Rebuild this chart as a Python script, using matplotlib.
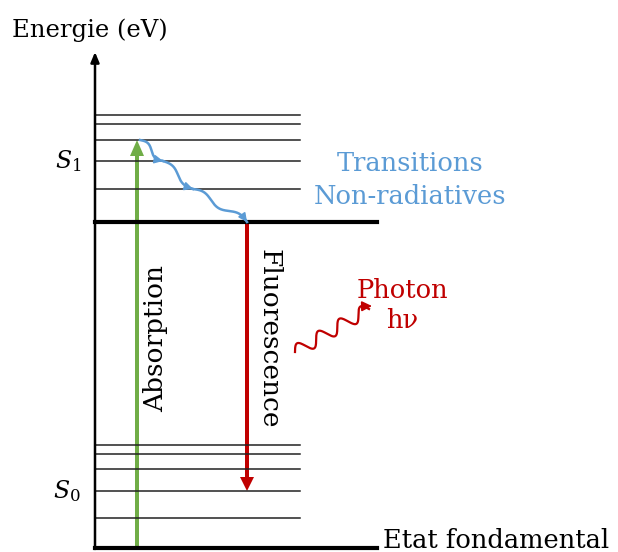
import numpy as np
import matplotlib.pyplot as plt

plt.rcParams['font.family'] = ['DejaVu Serif']
plt.rcParams['mathtext.fontset'] = 'dejavuserif'

# energies in arbitrary units (one unit ~ one pixel)
ground = 4
s0_levels = [34, 61, 83, 98, 107]
s1_base = 330
s1_levels = [363, 391, 412, 428, 437]
relax_path = [(140, 412), (163, 391), (193, 363), (247, 330)]
absorb_x = 137
fluo_x = 247
fluo_end = 61

green = '#70AD47'
red = '#C00000'
blue = '#5B9BD5'


def wavy(p0, p1, n, amp, npts=200):
    p0 = np.array(p0, float)
    p1 = np.array(p1, float)
    t = np.linspace(0, 1, npts)
    d = p1 - p0
    perp = np.array([-d[1], d[0]]) / np.hypot(*d)
    pts = p0 + np.outer(t, d) + np.outer(amp * np.sin(2 * np.pi * n * t), perp)
    return pts[:, 0], pts[:, 1]


fig = plt.figure(figsize=(6.18, 5.52), dpi=100)
ax = fig.add_axes([0, 0, 1, 1])
ax.set_xlim(0, 618)
ax.set_ylim(0, 552)
ax.axis('off')

# energy axis
ax.annotate('', xy=(95, 500), xytext=(95, ground - 1),
            arrowprops=dict(arrowstyle='-|>,head_width=0.25,head_length=0.6',
                            lw=1.8, color='black', shrinkA=0, shrinkB=0))
ax.text(12, 522, 'Energie (eV)', fontsize=17.5, va='center', ha='left')

# levels
for e in s0_levels + s1_levels:
    ax.plot([95, 300], [e, e], color='#222222', lw=1.1)
ax.plot([95, 377], [s1_base, s1_base], color='black', lw=3)
ax.plot([95, 377], [ground, ground], color='black', lw=3)

ax.text(81, 391, '$S_1$', fontsize=17, ha='right', va='center')
ax.text(81, 61, '$S_0$', fontsize=17, ha='right', va='center')
ax.text(383, 11, 'Etat fondamental', fontsize=18.5, ha='left', va='center')

# absorption
ax.arrow(absorb_x, ground, 0, s1_levels[2] - ground, width=4, head_width=14,
         head_length=16, length_includes_head=True, color=green, lw=0)
ax.text(156, 214, 'Absorption', fontsize=19, rotation=90, ha='center', va='center')

# fluorescence
ax.arrow(fluo_x, s1_base, 0, fluo_end - s1_base, width=4, head_width=14,
         head_length=14, length_includes_head=True, color=red, lw=0)
ax.text(269, 213, 'Fluorescence', fontsize=19, rotation=270, ha='center', va='center')

# non-radiative relaxation
for (a, b) in zip(relax_path[:-1], relax_path[1:]):
    n = 1.5 if b[0] - a[0] > 40 else 1
    xs, ys = wavy(a, b, n, 3)
    ax.plot(xs, ys, color=blue, lw=1.8)
    ax.annotate('', xy=(xs[-1], ys[-1]), xytext=(xs[-12], ys[-12]),
                arrowprops=dict(arrowstyle='-|>,head_width=0.25,head_length=0.5',
                                color=blue, lw=1.2, shrinkA=0, shrinkB=0))
ax.text(410, 372, 'Transitions\nNon-radiatives', fontsize=18.5, color=blue,
        ha='center', va='center', linespacing=1.4)

# photon
xs, ys = wavy((295, 200), (369, 243), 3.5, 6.5)
ax.plot(xs, ys, color=red, lw=1.6)
ax.annotate('', xy=(372, 246), xytext=(xs[-10], ys[-10]),
            arrowprops=dict(arrowstyle='-|>,head_width=0.3,head_length=0.6',
                            color=red, lw=1.2, shrinkA=0, shrinkB=0))
ax.text(402, 246, 'Photon\nh\u03bd', fontsize=18.5, color=red, ha='center',
        va='center', linespacing=1.25)

fig.savefig('out.png', dpi=100)
